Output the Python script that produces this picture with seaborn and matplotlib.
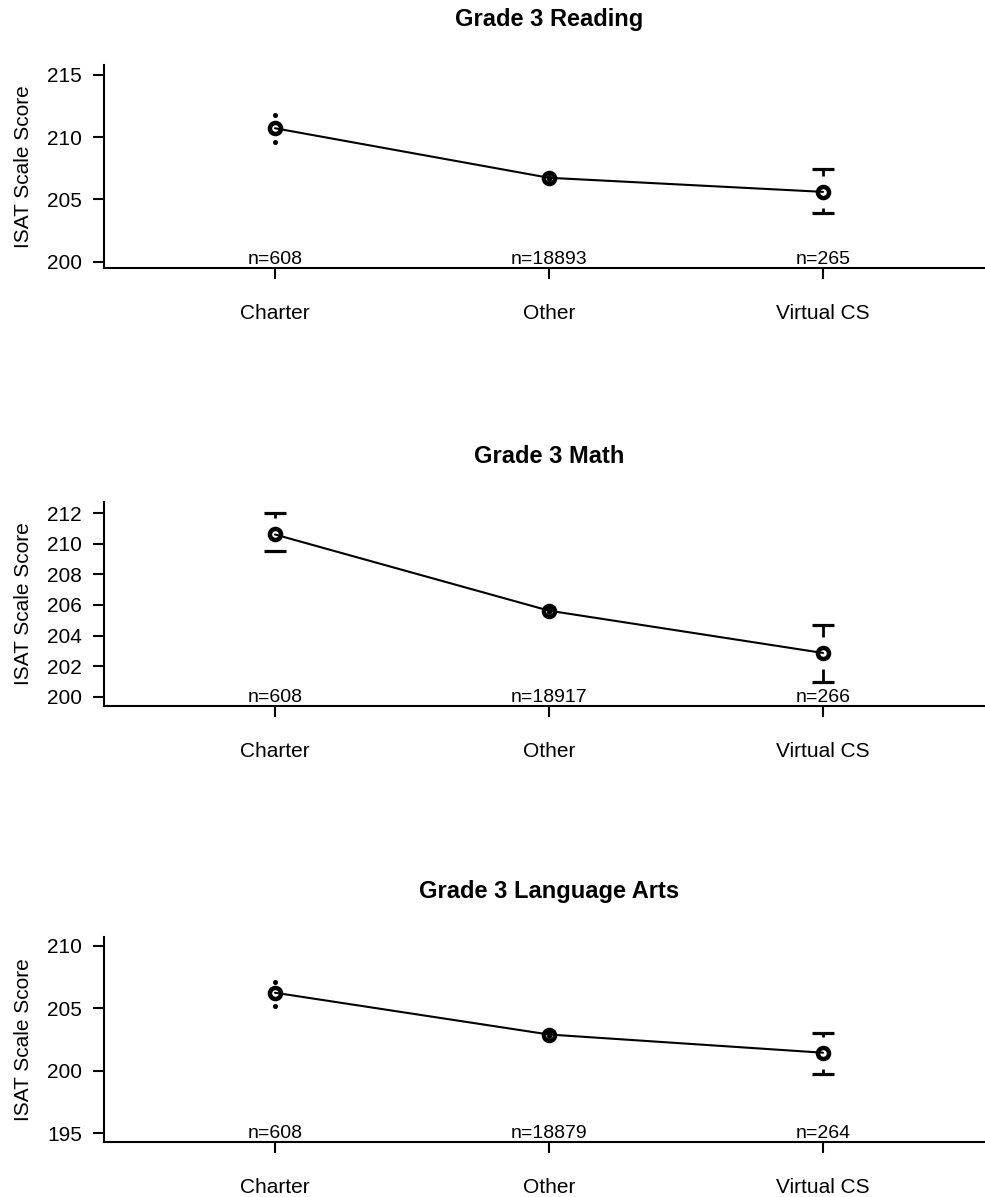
import numpy as np
import pandas as pd
import matplotlib
matplotlib.use("Agg")
import matplotlib.pyplot as plt
import seaborn as sns

# ---------------- data ----------------
categories = ["Charter", "Other", "Virtual CS"]

titles = ["Grade 3 Reading", "Grade 3 Math", "Grade 3 Language Arts"]

reading_mean = [210.72, 206.74, 205.61]
reading_low = [209.62, 206.64, 203.90]
reading_high = [211.80, 206.84, 207.43]
reading_n = [608, 18893, 265]

math_mean = [210.60, 205.63, 202.87]
math_low = [209.52, 205.53, 200.98]
math_high = [211.98, 205.73, 204.70]
math_n = [608, 18917, 266]

lang_mean = [206.25, 202.90, 201.44]
lang_low = [205.20, 202.80, 199.76]
lang_high = [207.10, 203.00, 203.05]
lang_n = [608, 18879, 264]

reading_ticks = [200, 205, 210, 215]
math_ticks = [200, 202, 204, 206, 208, 210, 212]
lang_ticks = [195, 200, 205, 210]

ylabel = "ISAT Scale Score"

# ---------------- style ----------------
sns.set_style("ticks")
plt.rcParams["font.family"] = ["Liberation Sans", "DejaVu Sans"]

W, H = 985, 1197
fig = plt.figure(figsize=(W / 100, H / 100), dpi=100)

panels = [
    (titles[0], reading_mean, reading_low, reading_high, reading_n, reading_ticks,
     (199.47, 215.8), (65, 268.3)),
    (titles[1], math_mean, math_low, math_high, math_n, math_ticks,
     (199.41, 212.72), (502, 706)),
    (titles[2], lang_mean, lang_low, lang_high, lang_n, lang_ticks,
     (194.28, 210.72), (937, 1142)),
]

LW = 1.5          # pt
GAP_PX = 16.0     # gap of error bar from point centre, px
X_LEFT_PX, X_RIGHT_PX = 104, 994

for title, means, lows, highs, ns, ticks, ylim, (top_px, bot_px) in panels:
    ax = fig.add_axes([X_LEFT_PX / W, 1 - bot_px / H,
                       (X_RIGHT_PX - X_LEFT_PX) / W, (bot_px - top_px) / H])
    xs = np.arange(len(categories))
    df = pd.DataFrame({"x": xs, "score": means})
    sns.lineplot(data=df, x="x", y="score", ax=ax, color="black", lw=LW,
                 marker="o", markersize=8, markerfacecolor="none",
                 markeredgecolor="black", markeredgewidth=3.2, sort=False,
                 zorder=3)
    ax.set_xlim(-0.624, 2.624)
    ax.set_ylim(*ylim)

    # error bars
    ppu = ax.transData.transform((0, 1))[1] - ax.transData.transform((0, 0))[1]
    for x, m, lo, hi in zip(xs, means, lows, highs):
        for end in (lo, hi):
            d_px = abs(end - m) * ppu
            sign = 1 if end > m else -1
            if d_px > GAP_PX:
                ax.plot([x, x], [m + sign * GAP_PX / ppu, end], color="black",
                        lw=2.0, solid_capstyle="butt", zorder=4)
                ax.plot([x], [end], marker="_", ms=16.5, mew=2.3,
                        color="black", zorder=4)
            else:
                ax.plot([x], [end], marker="o", ms=2.6, color="black",
                        zorder=4)

    for x, n in zip(xs, ns):
        ax.text(x, ylim[0], f"n={n}", ha="center", va="bottom",
                fontsize=14, color="black", zorder=5)

    ax.set_xticks(xs, labels=categories)
    ax.set_yticks(ticks)
    ax.tick_params(axis="both", labelsize=15, length=8, width=LW,
                   color="black", labelcolor="black")
    ax.tick_params(axis="x", pad=18)
    ax.tick_params(axis="y", pad=8)
    ax.set_xlabel("")
    ax.set_ylabel(ylabel, fontsize=15, labelpad=10, color="black")
    ax.set_title(title, fontsize=17, fontweight="bold", pad=28, color="black")
    sns.despine(ax=ax)
    for s in ("left", "bottom"):
        ax.spines[s].set_linewidth(LW)
        ax.spines[s].set_color("black")

fig.savefig("out.png", dpi=100)
